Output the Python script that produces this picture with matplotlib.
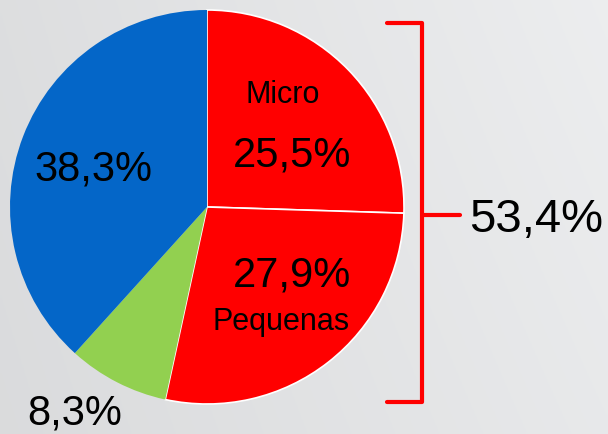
import numpy as np
import matplotlib
matplotlib.use("Agg")
import matplotlib.pyplot as plt

# Data
categories = ["Micro", "Pequenas", "Otros", "Grandes"]
values = [25.5, 27.9, 8.3, 38.3]
value_labels = ["25,5%", "27,9%", "8,3%", "38,3%"]
colors = ["#FF0000", "#FF0000", "#92D050", "#0466C8"]
group_label = "53,4%"

W, H = 608, 435
fig = plt.figure(figsize=(W / 100, H / 100), dpi=100)

# background gradient
bg = fig.add_axes([0, 0, 1, 1])
xx, yy = np.meshgrid(np.linspace(0, 1, 200), np.linspace(0, 1, 150))
val = 0.855 + 0.06 * xx + 0.012 * (1 - yy) - 0.006 * yy * xx
bg.imshow(np.dstack([val, val + 0.004, val + 0.01]).clip(0, 1), extent=[0, W, 0, H],
          aspect="auto", origin="upper")
bg.set_xlim(0, W)
bg.set_ylim(0, H)
bg.axis("off")

ax = fig.add_axes([0, 0, 1, 1])
ax.patch.set_alpha(0)

cx, cy, r = 207, H - 208, 197
wedges, _ = ax.pie(values, colors=colors, startangle=90, counterclock=False,
                   center=(cx, cy), radius=r, frame=True)
for w, c in zip(wedges, colors):
    if c == "#FF0000":
        w.set_edgecolor("white")
        w.set_linewidth(1.2)
    else:
        w.set_edgecolor("none")
ax.set_xlim(0, W)
ax.set_ylim(0, H)
ax.axis("off")

font = "Liberation Sans"
def txt(x, y, s, size, ha="center"):
    ax.text(x, H - y, s, fontsize=size, family=font, ha=ha, va="baseline", color="black")

txt(283, 103, categories[0], 22)
txt(292, 167, value_labels[0], 30)
txt(292, 287, value_labels[1], 30)
txt(281, 330, categories[1], 22)
txt(93, 181, value_labels[3], 30)
txt(75, 425, value_labels[2], 30)
txt(469, 232, group_label, 34, ha="left")

# bracket
lw = 3
red = "#FF0000"
ax.plot([387, 422, 422, 387], [H - 24, H - 24, H - 403, H - 403], color=red,
        lw=lw, solid_capstyle="round", solid_joinstyle="round")
ax.plot([422, 460], [H - 216, H - 216], color=red, lw=lw, solid_capstyle="round")

fig.savefig("out.png", dpi=100)
